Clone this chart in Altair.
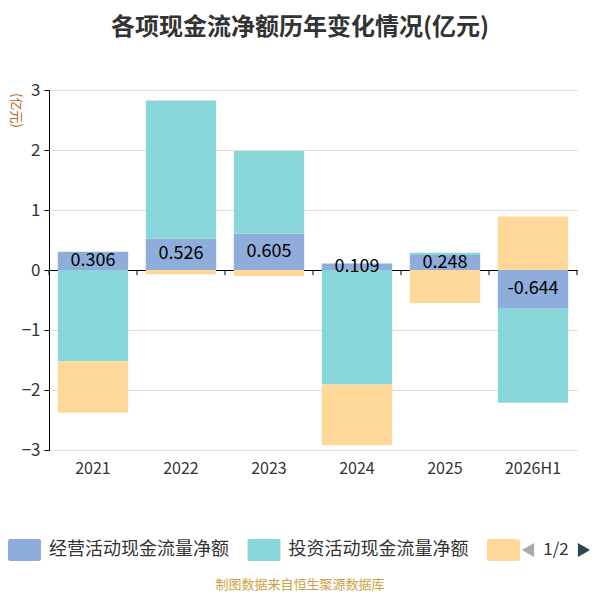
import altair as alt
import pandas as pd

FONT = "Noto Sans CJK SC"

years = ["2021", "2022", "2023", "2024", "2025", "2026H1"]
series = ["经营活动现金流量净额", "投资活动现金流量净额", "筹资活动现金流量净额"]
colors = ["#8fadda", "#88d6d9", "#ffd899"]

operating = [0.306, 0.526, 0.605, 0.109, 0.248, -0.644]
investing = [-1.52, 2.30, 1.38, -1.91, 0.04, -1.57]
financing = [-0.86, -0.07, -0.10, -1.01, -0.55, 0.89]

rows = []
for i, y in enumerate(years):
    for k, vals in enumerate([operating, investing, financing]):
        rows.append({"year": y, "series": series[k], "value": vals[i], "order": k})
df = pd.DataFrame(rows)
ops = pd.DataFrame({"year": years, "value": operating})

W, H = 528, 360
STEP = W / len(years)

# rounded rectangle legend swatch, 3:2
SWATCH = ("M-1.3,-1H1.3Q1.5,-1 1.5,-0.8V0.8Q1.5,1 1.3,1H-1.3"
          "Q-1.5,1 -1.5,0.8V-0.8Q-1.5,-1 -1.3,-1Z")

x_scale = alt.Scale(domain=years, paddingInner=0.2, paddingOuter=0.1)
y_scale = alt.Scale(domain=[-3, 3])

# x axis line sitting on zero
zero_axis = alt.Axis(orient="bottom", offset=-H / 2, labels=False, title=None,
                     domain=True, ticks=False, domainColor="#000", domainWidth=1,
                     grid=False)
label_axis = alt.Axis(orient="bottom", domain=False, ticks=False, title=None,
                      labelFontSize=16, labelColor="#333", labelPadding=10,
                      labelAngle=0, labelFont=FONT, grid=False)
y_axis = alt.Axis(values=[-3, -2, -1, 0, 1, 2, 3], title="(亿元)",
                  titleAngle=90, titleX=-34, titleY=20, titleColor="#b5651d",
                  titleFontSize=13, titleFontWeight="normal", titleFont=FONT,
                  titleAlign="center", titleBaseline="middle",
                  domainColor="#000", tickColor="#000", tickSize=5,
                  labelFontSize=17, labelColor="#333", labelPadding=4,
                  labelFont=FONT, gridColor="#dddddd")

bars = alt.Chart(df).mark_bar().encode(
    x=alt.X("year:N", sort=years, scale=x_scale, axis=zero_axis),
    y=alt.Y("value:Q", stack="zero", scale=y_scale, axis=y_axis),
    color=alt.Color("series:N", scale=alt.Scale(domain=series, range=colors),
                    legend=alt.Legend(
                        orient="none", legendX=-35.5, legendY=449,
                        direction="horizontal", title=None, padding=0,
                        symbolType=SWATCH, symbolSize=484, symbolStrokeWidth=0,
                        symbolOpacity=1, labelFontSize=18, labelColor="#333",
                        labelFont=FONT, labelOffset=13.5, columnPadding=17.5,
                        labelLimit=300,
                        labelExpr="datum.label == '筹资活动现金流量净额' ? '' : datum.label")),
    order=alt.Order("order:Q"),
)

labels = alt.Chart(ops).transform_calculate(
    mid="datum.value / 2",
    txt="replace(format(datum.value, '.3f'), '\u2212', '-')",
).mark_text(fontSize=18, color="#000", baseline="middle", font=FONT).encode(
    x=alt.X("year:N", sort=years, scale=x_scale, axis=label_axis),
    y=alt.Y("mid:Q", scale=y_scale, axis=y_axis),
    text="txt:N",
)

# small ticks hanging from the zero line at the band boundaries
def boundary_ticks(data, shift):
    return alt.Chart(data).mark_rule(color="#000", strokeWidth=1, xOffset=shift).encode(
        x=alt.X("year:N", sort=years, scale=x_scale, axis=None),
        y=alt.YDatum(0, scale=y_scale, axis=y_axis),
        y2=alt.Y2Datum(-0.085),
    )

ticks_left = boundary_ticks(ops, -STEP / 2)
ticks_end = boundary_ticks(ops[ops["year"] == years[-1]], STEP / 2)

one = pd.DataFrame({"t": ["1/2"]})
pager_left = alt.Chart(one).mark_point(shape="triangle-left", filled=True,
                                       size=200, color="#aaaaaa", opacity=1).encode(
    x=alt.value(479), y=alt.value(460))
pager_text = alt.Chart(one).mark_text(fontSize=17, color="#333", font=FONT).encode(
    x=alt.value(507), y=alt.value(460), text="t:N")
pager_right = alt.Chart(one).mark_point(shape="triangle-right", filled=True,
                                        size=200, color="#2f4554", opacity=1).encode(
    x=alt.value(535), y=alt.value(460))

footer = alt.Chart(pd.DataFrame({"t": ["制图数据来自恒生聚源数据库"]})).mark_text(
    fontSize=13, color="#cf9f45", font=FONT).encode(
    x=alt.value(251), y=alt.value(495), text="t:N")

chart = alt.layer(bars, ticks_left, ticks_end, labels,
                  pager_left, pager_text, pager_right, footer).resolve_axis(
    x="independent"
).properties(
    width=W,
    height=H,
    autosize=alt.AutoSizeParams(type="none"),
    padding={"left": 41, "top": 82, "right": 15, "bottom": 142},
    title=alt.Title("各项现金流净额历年变化情况(亿元)", fontSize=24, fontWeight="bold",
                    color="#333", font=FONT, anchor="middle", dx=-13, offset=41),
).configure_view(stroke=None)

chart.save("out.html", embed_options={"renderer": "svg", "actions": False})
